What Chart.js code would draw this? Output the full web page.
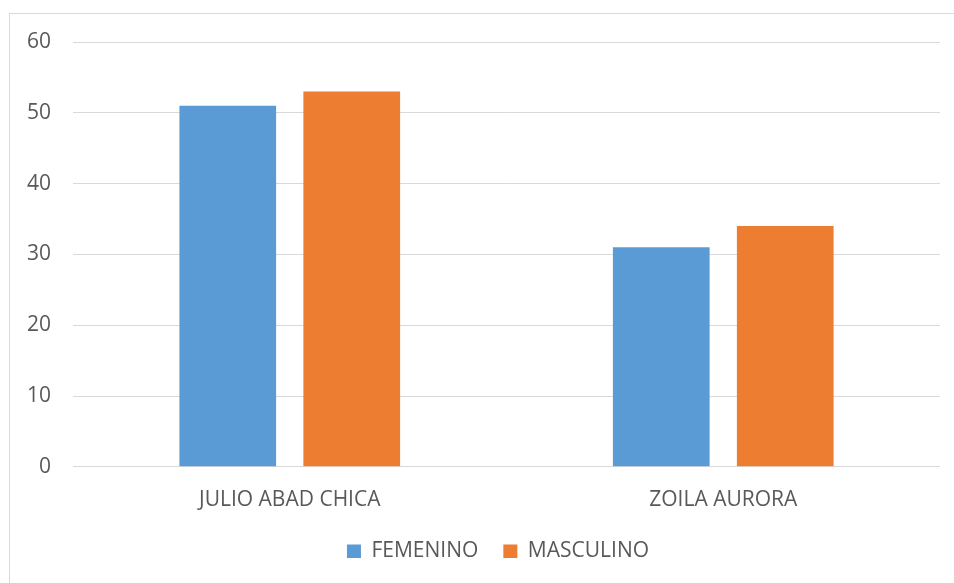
<!DOCTYPE html>
<html>
<head>
<meta charset="utf-8">
<script src="https://cdn.jsdelivr.net/npm/chart.js@4"></script>
<style>
  body { margin: 0; background: #fff; }
  #wrap { position: relative; width: 954px; height: 583px; overflow: hidden; }
  #frame { position: absolute; left: 9px; top: 13px; width: 980px; height: 620px; border: 1px solid #d9d9d9; }
  #c { position: absolute; left: 0; top: 0; }
</style>
</head>
<body>
<div id="wrap">
  <div id="frame"></div>
  <canvas id="c" width="954" height="583"></canvas>
</div>
<script>
// data
const schools = ["JULIO ABAD CHICA", "ZOILA AURORA"];
const femenino = [51, 31];
const masculino = [53, 34];
const yTicks = [0, 10, 20, 30, 40, 50, 60];

const textGray = "#595959";
const gridGray = "#d9d9d9";

Chart.defaults.font.family = "'Open Sans', 'Liberation Sans', sans-serif";
Chart.defaults.font.size = 21;
Chart.defaults.color = textGray;

// legend placement tweaks: trim the reserved height, then nudge it right/up
const legendNudge = {
  id: "legendNudge",
  beforeInit(chart) {
    const lg = chart.legend;
    const fit = lg.fit;
    lg.fit = function () {
      fit.call(this);
      this.height -= 14;
    };
  },
  afterLayout(chart) {
    const lg = chart.legend;
    lg.left += 28;
    lg.right += 28;
    lg.top -= 10;
    lg.bottom -= 10;
  },
};

const ctx = document.getElementById("c").getContext("2d");

new Chart(ctx, {
  type: "bar",
  data: {
    labels: schools,
    datasets: [
      {
        label: "FEMENINO",
        data: femenino,
        backgroundColor: "#5b9bd5",
        categoryPercentage: 0.572,
        barPercentage: 0.78,
      },
      {
        label: "MASCULINO",
        data: masculino,
        backgroundColor: "#ed7d31",
        categoryPercentage: 0.572,
        barPercentage: 0.78,
      },
    ],
  },
  options: {
    responsive: false,
    animation: false,
    layout: { padding: { top: 42, right: 14, bottom: 15, left: 0 } },
    plugins: {
      legend: {
        position: "bottom",
        labels: {
          boxWidth: 14,
          boxHeight: 14,
          padding: 25,
          color: textGray,
        },
      },
      tooltip: { enabled: false },
    },
    scales: {
      x: {
        grid: { display: false },
        border: { display: false },
        ticks: { padding: 13, color: textGray },
      },
      y: {
        min: 0,
        max: 60,
        afterBuildTicks: (scale) => {
          scale.ticks = yTicks.map((v) => ({ value: v }));
        },
        afterFit: (scale) => {
          scale.width = 73;
        },
        grid: { color: gridGray, lineWidth: 1, drawTicks: false },
        border: { display: false },
        ticks: { padding: 22, color: textGray },
      },
    },
  },
  plugins: [legendNudge],
});
</script>
</body>
</html>
